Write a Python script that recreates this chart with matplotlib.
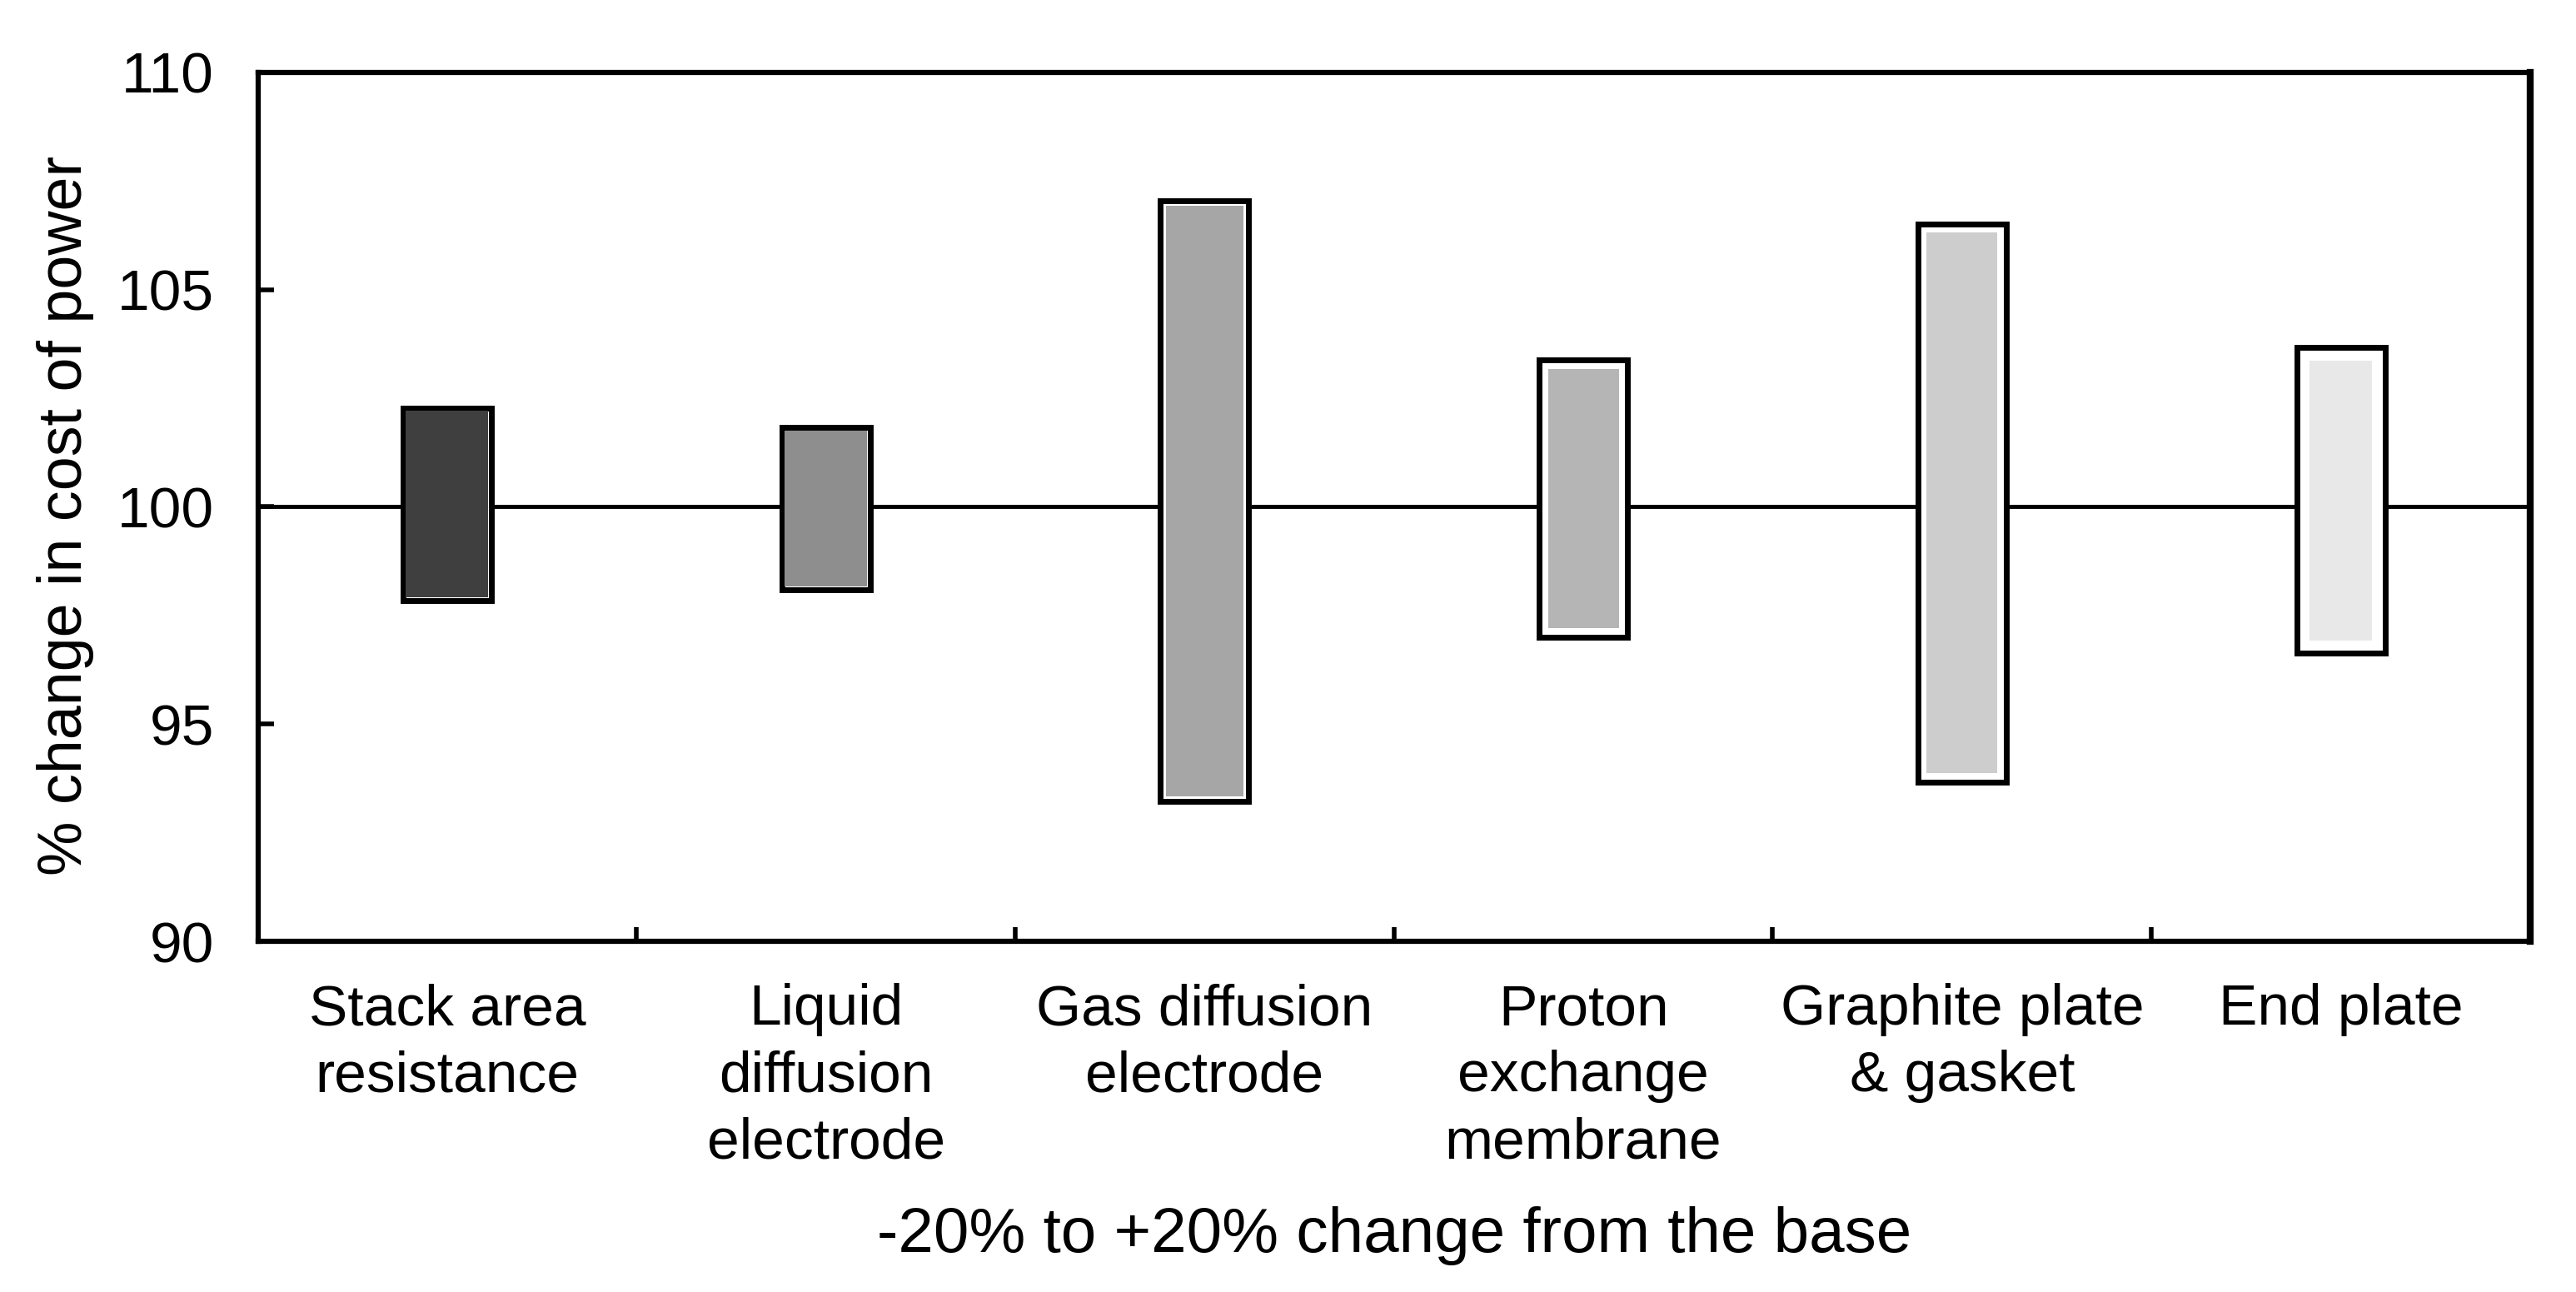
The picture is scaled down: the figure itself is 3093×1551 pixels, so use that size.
import numpy as np
import matplotlib
matplotlib.use('Agg')
import matplotlib.pyplot as plt

plt.rcParams['font.family'] = ['Liberation Sans', 'DejaVu Sans']

categories = ['Stack area\nresistance', 'Liquid\ndiffusion\nelectrode', 'Gas diffusion\nelectrode',
              'Proton\nexchange\nmembrane', 'Graphite plate\n& gasket', 'End plate']
high = [102.28, 101.83, 107.05, 103.38, 106.51, 103.67]
low = [97.85, 98.10, 93.22, 97.00, 93.67, 96.63]
base = 100

# look of each box: fill grey and white gap (px) inside the black outline
fills = ['#3f3f3f', '#8e8e8e', '#a6a6a6', '#b5b5b5', '#cdcdcd', '#e8e8e8']
gaps = [0, 0, 3, 7, 7, 12]

fig = plt.figure(figsize=(30.93, 15.51), dpi=100)
ax = fig.add_axes([0.1001, 0.2714, 0.8821, 0.6726])

x = np.arange(len(categories))
width = 0.233
ax.set_xlim(-0.5, len(categories) - 0.5)
ax.set_ylim(90, 110)

ax.axhline(base, color='black', lw=3.5, zorder=1)

heights = np.array(high) - np.array(low)
ax.bar(x, heights, width, bottom=low, facecolor='white', edgecolor='black', linewidth=5, zorder=2)

# px -> data units for the inner fill inset
px_x = 1.0 / (fig.get_figwidth() * 100 * 0.8821 / len(categories))
px_y = 20.0 / (fig.get_figheight() * 100 * 0.6726)
for i in range(len(categories)):
    inset = 3.5 + gaps[i]
    ax.bar(x[i], heights[i] - 2 * inset * px_y, width - 2 * inset * px_x,
           bottom=low[i] + inset * px_y, color=fills[i], linewidth=0, zorder=3)

ax.set_yticks([90, 95, 100, 105, 110])
ax.tick_params(axis='y', direction='in', length=14, width=4, labelsize=50, pad=38)

ax.set_xticks(x[:-1] + 0.5)
ax.set_xticklabels([])
ax.set_xticks(x, minor=True)
ax.set_xticklabels(categories, minor=True, fontsize=50, linespacing=1.32)
ax.tick_params(axis='x', which='major', direction='in', length=12, width=4)
ax.tick_params(axis='x', which='minor', length=0, pad=36)

for s in ax.spines.values():
    s.set_linewidth(4.5)
ax.spines['right'].set_linewidth(6)

ax.set_ylabel('% change in cost of power', fontsize=53)
ax.yaxis.set_label_coords(-0.072, 0.49)
ax.set_xlabel('-20% to +20% change from the base', fontsize=55)
ax.xaxis.set_label_coords(0.5, -0.305)

fig.savefig('out.png', dpi=100)
